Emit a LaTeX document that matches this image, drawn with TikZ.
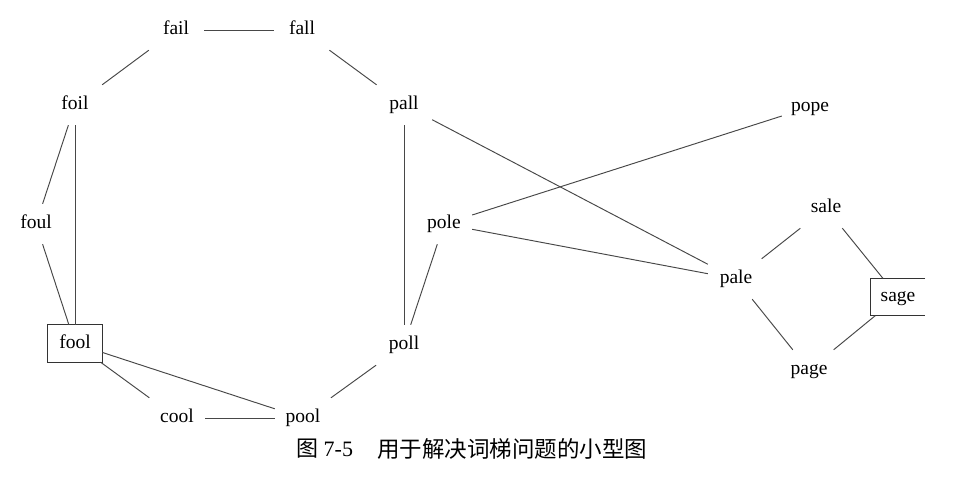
\documentclass[tikz,border=0pt]{standalone}
\usepackage{fontspec}
\setmainfont{Liberation Serif}
\newfontfamily\cjk{Noto Sans CJK SC}
\begin{document}
\begin{tikzpicture}[x=1pt,y=-1pt,
  word/.style={rectangle,inner sep=0pt,minimum width=56pt,minimum height=40pt,
    font=\fontsize{19.5}{22}\selectfont,text height=13.5pt,text depth=4pt},
  wordbox/.style={word,minimum width=54pt,minimum height=37pt},
  link/.style={line width=0.95pt,draw=black!72},
  frame/.style={line width=1.05pt,draw=black!80}]
\fill[white] (0,0) rectangle (954,480);
\useasboundingbox (0,0) rectangle (954,480);

% words of the ladder
\node[word] (fail) at (176,30) {fail};
\node[word] (fall) at (302,30) {fall};
\node[word] (foil) at (75,105) {foil};
\node[word] (pall) at (404,105) {pall};
\node[word] (pope) at (810,107) {pope};
\node[word] (foul) at (36,224) {foul};
\node[word] (pole) at (444,224) {pole};
\node[word] (sale) at (826,208) {sale};
\node[word] (pale) at (736,279) {pale};
\node[wordbox] (sage) at (898,297) {sage};
\node[wordbox] (fool) at (75,343.5) {fool};
\node[word] (poll) at (404,345) {poll};
\node[word] (page) at (809,370) {page};
\node[word] (cool) at (177,418) {cool};
\node[word] (pool) at (303,418) {pool};

% start and goal words are framed; the goal frame is open on the right
\draw[frame] (fool.north west) rectangle (fool.south east);
\draw[frame] (sage.north east) -- (sage.north west) -- (sage.south west) -- (sage.south east);

% one-letter changes
\draw[link] (fail) -- (fall);
\draw[link] (fail) -- (foil);
\draw[link] (fall) -- (pall);
\draw[link] (foil) -- (foul);
\draw[link] (foil.south) -- (fool.north);
\draw[link] (foul) -- (fool);
\draw[link] (fool) -- (cool);
\draw[link] (fool) -- (pool);
\draw[link] (cool) -- (pool);
\draw[link] (pool) -- (poll);
\draw[link] (poll) -- (pall);
\draw[link] (poll) -- (pole);
\draw[link] (pall) -- (pale);
\draw[link] (pole) -- (pope);
\draw[link] (pole) -- (pale);
\draw[link] (pale) -- (sale);
\draw[link] (pale) -- (page);
\draw[link] (sale) -- (sage);
\draw[link] (page) -- (sage);

% caption
\node[anchor=west,inner sep=0pt,font=\fontsize{22}{24}\selectfont] (cap1) at (296,449) {{\cjk 图} 7-5};
\node[anchor=west,inner sep=0pt,font=\fontsize{22.5}{24}\selectfont\cjk] (cap2) at (377,449) {用于解决词梯问题的小型图};
\end{tikzpicture}
\end{document}
